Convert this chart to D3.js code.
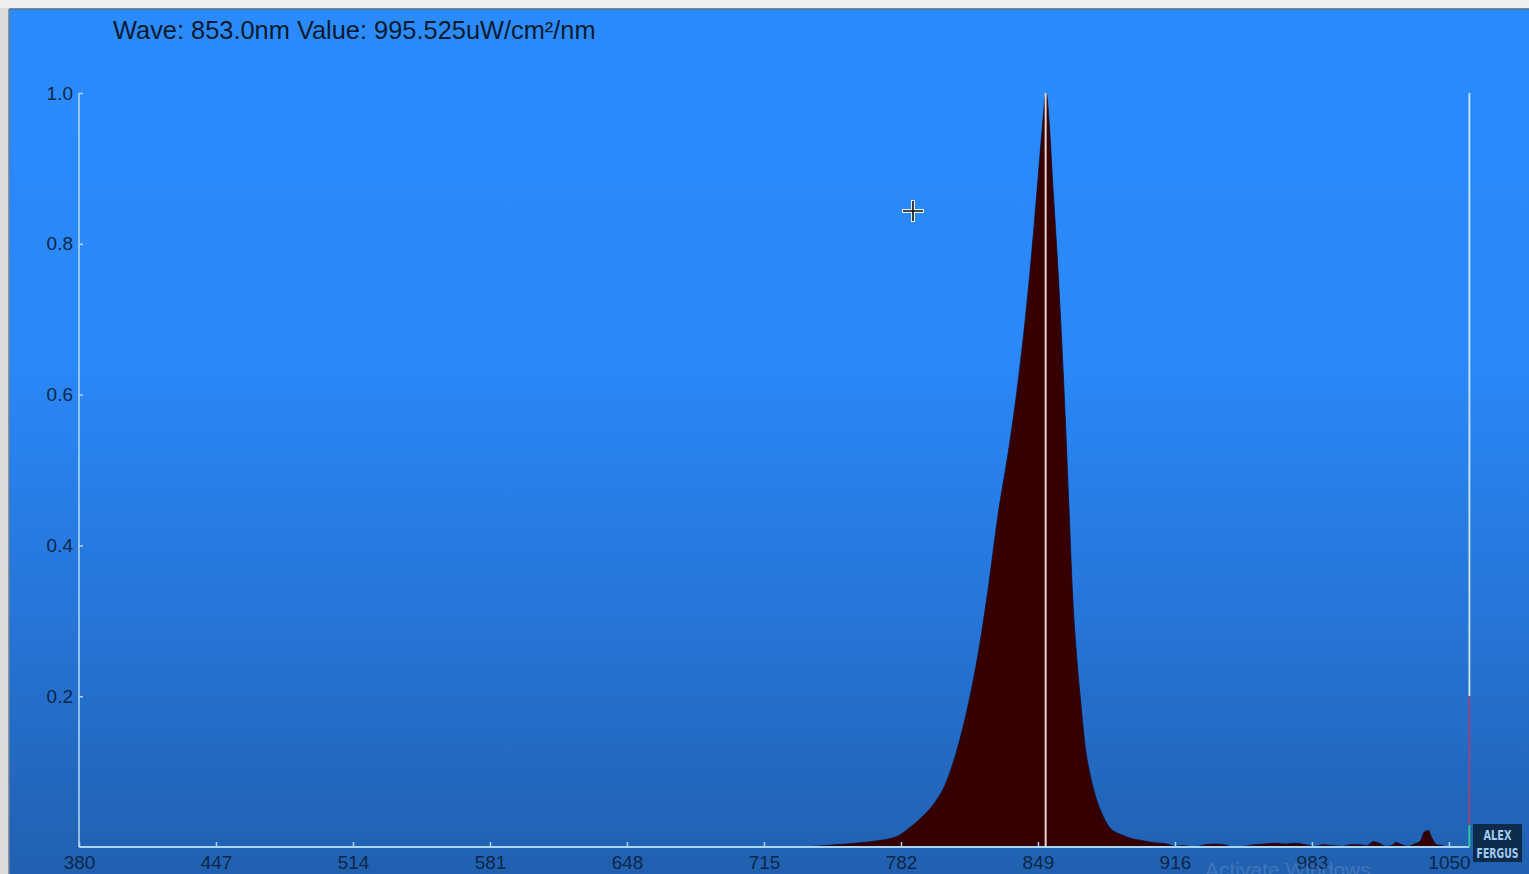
<!DOCTYPE html>
<html><head><meta charset="utf-8">
<script src="https://cdn.jsdelivr.net/npm/d3@7/dist/d3.min.js"></script>
<style>html,body{margin:0;padding:0;background:#e9e9e9;overflow:hidden}svg{display:block}</style>
</head><body>
<script>
// ---- data ----
const titleText = "Wave: 853.0nm Value: 995.525uW/cm²/nm";
const xTicks = [380, 447, 514, 581, 648, 715, 782, 849, 916, 983, 1050];
const yTicks = [0.2, 0.4, 0.6, 0.8, 1.0];
const cursorWave = 853.0;
const wavelengths = [380,730,740,750,760,770,780,786,792,798,804,809,815,820,824,830,834,838,842,845,849,851,853,854.5,856,859,862,864,866,868,870,872,875,878,881,884,890,895,899,905,912,916,920,925,931,935,940,945,950,955,960,965,970,975,980,985,988,993,998,1002,1006,1010,1013,1016,1019,1022,1024,1027,1030,1033,1036,1038,1040,1041,1042,1044,1047,1048,1060];
const values =      [0,0,0.001,0.003,0.005,0.008,0.014,0.025,0.039,0.057,0.085,0.125,0.19,0.26,0.33,0.45,0.515,0.59,0.68,0.76,0.885,0.95,1.0,0.96,0.89,0.755,0.59,0.46,0.33,0.25,0.19,0.135,0.09,0.06,0.04,0.026,0.016,0.011,0.009,0.006,0.004,0.001,0.002,0.0,0.003,0.004,0.003,0.0,0.001,0.003,0.004,0.005,0.004,0.005,0.003,0.001,0.003,0.002,0.001,0.003,0.003,0.002,0.007,0.005,0.001,0.002,0.006,0.003,0.001,0.004,0.008,0.02,0.022,0.016,0.01,0.003,0.002,0,0];
const data = wavelengths.map((w,i)=>({w, v: values[i]}));

const W = 1529, H = 874;
const FONT = "Liberation Sans, Arial, sans-serif";
const svg = d3.select("body").append("svg").attr("width", W).attr("height", H);
const defs = svg.append("defs");
const grad = defs.append("linearGradient").attr("id","bg").attr("x1",0).attr("y1",0).attr("x2",0).attr("y2",1);
grad.append("stop").attr("offset","0%").attr("stop-color","#2b8bfd");
grad.append("stop").attr("offset","40%").attr("stop-color","#2a88f8");
grad.append("stop").attr("offset","70%").attr("stop-color","#2675d8");
grad.append("stop").attr("offset","100%").attr("stop-color","#2160b0");

// window frame
svg.append("rect").attr("x",0).attr("y",0).attr("width",W).attr("height",H).attr("fill","#dcdcdc");
svg.append("rect").attr("x",0).attr("y",0).attr("width",W).attr("height",8).attr("fill","#efefef");
svg.append("rect").attr("x",9).attr("y",9).attr("width",W-9).attr("height",H-9).attr("fill","url(#bg)");
svg.append("line").attr("x1",9).attr("x2",W).attr("y1",9).attr("y2",9).attr("stroke","#5a6f88").attr("stroke-width",1.5);
svg.append("line").attr("x1",9).attr("x2",9).attr("y1",9).attr("y2",H).attr("stroke","#6d7f95").attr("stroke-width",1.5);

const x = d3.scaleLinear().domain([380, 1060]).range([79, 1469.4]);
const y = d3.scaleLinear().domain([0, 1]).range([847, 93]);

// title
svg.append("text").attr("x",113).attr("y",39).text(titleText)
  .attr("font-family",FONT).attr("font-size",25.4).attr("fill","#0b1a2e");

// area
const area = d3.area().x(d=>x(d.w)).y0(y(0)).y1(d=>y(d.v)).curve(d3.curveMonotoneX);
svg.append("path").datum(data).attr("d", area).attr("fill","#370000")
  .attr("stroke","#1d0a20").attr("stroke-width",0.8);

// axes
const axisColor = "#a9d6f2";
const textColor = "#0e2746";
const yAxis = d3.axisLeft(y).tickValues(yTicks).tickFormat(d3.format(".1f")).tickSize(-4).tickPadding(6);
const gy = svg.append("g").attr("transform",`translate(${x(380)},0)`).call(yAxis);
gy.select(".domain").remove();
gy.selectAll(".tick line").attr("stroke",axisColor).attr("stroke-width",1.5);
gy.selectAll(".tick text").attr("font-family",FONT).attr("font-size",19).attr("fill",textColor).attr("x",-6);
svg.append("line").attr("x1",x(380)).attr("x2",x(380)).attr("y1",y(1)).attr("y2",y(0)).attr("stroke",axisColor).attr("stroke-width",1.6);

const xAxis = d3.axisBottom(x).tickValues(xTicks).tickFormat(d3.format("d")).tickSize(-5).tickPadding(6);
const gx = svg.append("g").attr("transform",`translate(0,${y(0)})`).call(xAxis);
gx.select(".domain").remove();
gx.selectAll(".tick line").attr("stroke",axisColor).attr("stroke-width",1.5);
gx.selectAll(".tick text").attr("font-family",FONT).attr("font-size",19).attr("fill",textColor).attr("y",9);
svg.append("line").attr("x1",x(380)).attr("x2",x(1060)).attr("y1",y(0)).attr("y2",y(0)).attr("stroke",axisColor).attr("stroke-width",1.8);

// cursor line
svg.append("line").attr("x1",x(cursorWave)-0.5).attr("x2",x(cursorWave)-0.5).attr("y1",y(1)).attr("y2",y(0))
  .attr("stroke","#e6d6d6").attr("stroke-width",2);

// right-side bar line
const rx = x(1060);
svg.append("line").attr("x1",rx).attr("x2",rx).attr("y1",y(1)).attr("y2",y(0.2)).attr("stroke","#cfe6f5").attr("stroke-width",1.8);
svg.append("line").attr("x1",rx).attr("x2",rx).attr("y1",y(0.2)).attr("y2",y(0.029)).attr("stroke","#9a4478").attr("stroke-width",1.8);
svg.append("line").attr("x1",rx).attr("x2",rx).attr("y1",y(0.029)).attr("y2",y(0)).attr("stroke","#2fc4a0").attr("stroke-width",2);

// crosshair cursor
const cx = 913, cy = 211;
const ch = svg.append("g");
ch.append("path").attr("d",`M${cx-11},${cy}H${cx+11}M${cx},${cy-11}V${cy+11}`).attr("stroke","#e8f0f8").attr("stroke-width",4);
ch.append("path").attr("d",`M${cx-10},${cy}H${cx+10}M${cx},${cy-10}V${cy+10}`).attr("stroke","#101010").attr("stroke-width",1.6);

// faint overlay text
svg.append("text").attr("x",1205).attr("y",877).text("Activate Windows")
  .attr("font-family",FONT).attr("font-size",21).attr("fill","#ffffff").attr("opacity",0.13);

// watermark
svg.append("rect").attr("x",1473).attr("y",824).attr("width",49).attr("height",38).attr("fill","#0f2b4b");
svg.append("text").attr("x",1497.5).attr("y",840).attr("text-anchor","middle").text("ALEX")
  .attr("font-family","DejaVu Sans Condensed, DejaVu Sans, sans-serif").attr("font-weight","bold").attr("font-size",14)
  .attr("fill","#9fcaf2").attr("textLength",28).attr("lengthAdjust","spacingAndGlyphs");
svg.append("text").attr("x",1497.5).attr("y",858).attr("text-anchor","middle").text("FERGUS")
  .attr("font-family","DejaVu Sans Condensed, DejaVu Sans, sans-serif").attr("font-weight","bold").attr("font-size",14)
  .attr("fill","#9fcaf2").attr("textLength",42).attr("lengthAdjust","spacingAndGlyphs");
</script>
</body></html>
